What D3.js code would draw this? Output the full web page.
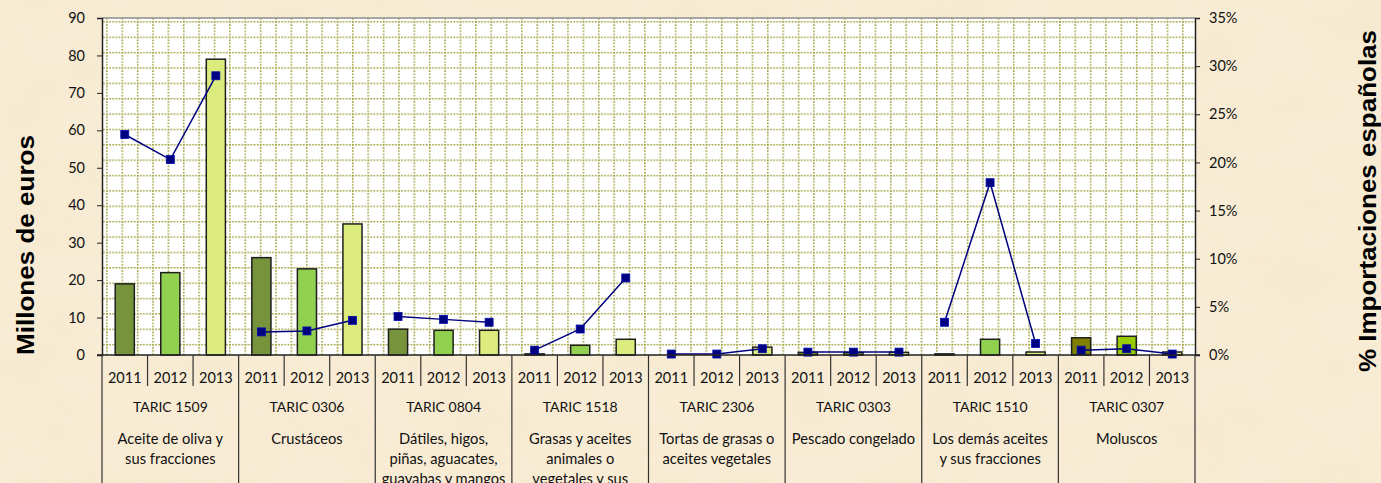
<!DOCTYPE html>
<html>
<head>
<meta charset="utf-8">
<script src="https://cdn.jsdelivr.net/npm/d3@7"></script>
<style>
  html, body { margin: 0; padding: 0; background: #f7e9cf; }
  svg { display: block; }
  .tick text { font-family: Lato, "Open Sans", sans-serif; fill: #111; }
</style>
</head>
<body>
<div id="chart"></div>
<script>
// Datos
const groups = ["TARIC 1509", "TARIC 0306", "TARIC 0804", "TARIC 1518",
    "TARIC 2306", "TARIC 0303", "TARIC 1510", "TARIC 0307"];
const descriptions = [
    ["Aceite de oliva y", "sus fracciones"],
    ["Crustáceos"],
    ["Dátiles, higos,", "piñas, aguacates,", "guayabas y mangos"],
    ["Grasas y aceites", "animales o", "vegetales y sus"],
    ["Tortas de grasas o", "aceites vegetales"],
    ["Pescado congelado"],
    ["Los demás aceites", "y sus fracciones"],
    ["Moluscos"]
];
const years = ["2011", "2012", "2013"];
// millones de euros
const imports = [
    [19, 22, 79],
    [26, 23, 35],
    [6.9, 6.6, 6.6],
    [0.3, 2.6, 4.2],
    [0, 0, 2.1],
    [0.7, 0.6, 0.7],
    [0.3, 4.2, 0.8],
    [4.6, 5.0, 0.8]
];
// % importaciones espanolas
const shares = [
    [0.229, 0.203, 0.290],
    [0.024, 0.025, 0.036],
    [0.040, 0.037, 0.034],
    [0.005, 0.027, 0.080],
    [0.001, 0.001, 0.0065],
    [0.003, 0.003, 0.003],
    [0.034, 0.179, 0.012],
    [0.005, 0.0065, 0.001]
];
const leftTicks = [0, 10, 20, 30, 40, 50, 60, 70, 80, 90];
const rightTicks = [0, 0.05, 0.10, 0.15, 0.20, 0.25, 0.30, 0.35];

const yearColors = ["#77933c", "#92d050", "#dcec7c"];
const lastGroupColors = ["#7f7f00", "#99cc00", "#dcec7c"];

const W = 1381, H = 483;
const margin = {top: 18, right: 186, bottom: 128, left: 102};
const width = W - margin.left - margin.right;
const height = H - margin.top - margin.bottom;

const svg = d3.select("#chart").append("svg")
    .attr("width", W)
    .attr("height", H);

const defs = svg.append("defs");

// paper texture
const paper = defs.append("filter").attr("id", "paper")
    .attr("x", 0).attr("y", 0).attr("width", "100%").attr("height", "100%");
paper.append("feTurbulence")
    .attr("type", "fractalNoise")
    .attr("baseFrequency", "0.012 0.02")
    .attr("numOctaves", 4)
    .attr("seed", 7);
paper.append("feColorMatrix")
    .attr("type", "matrix")
    .attr("values", "0 0 0 0 0.88  0 0 0 0 0.78  0 0 0 0 0.60  1.6 0 0 0 -0.62");

svg.append("rect").attr("width", W).attr("height", H).attr("fill", "#f9ecd4");
svg.append("rect").attr("width", W).attr("height", H)
    .attr("filter", "url(#paper)").attr("opacity", 0.45);

// dotted grid pattern fill of the plot area
const cell = 15.37;
const pat = defs.append("pattern").attr("id", "dotgrid")
    .attr("patternUnits", "userSpaceOnUse")
    .attr("x", margin.left + 9.7).attr("y", margin.top + 0.5)
    .attr("width", cell).attr("height", cell);
pat.append("rect").attr("width", cell).attr("height", cell).attr("fill", "#fff");
pat.append("line").attr("x1", 0).attr("x2", cell).attr("y1", 0.75).attr("y2", 0.75)
    .attr("stroke", "#999930").attr("stroke-width", 1.6).attr("stroke-dasharray", "1.6,1.5");
pat.append("line").attr("x1", 0.75).attr("x2", 0.75).attr("y1", 0).attr("y2", cell)
    .attr("stroke", "#999930").attr("stroke-width", 1.6).attr("stroke-dasharray", "1.6,1.5");

const g = svg.append("g")
    .attr("transform", "translate(" + margin.left + "," + margin.top + ")");

g.append("rect")
    .attr("width", width).attr("height", height)
    .attr("fill", "url(#dotgrid)");
g.append("line")
    .attr("x1", 0).attr("x2", width).attr("y1", 0).attr("y2", 0)
    .attr("stroke", "#8c8c8c").attr("stroke-width", 1.5);

// scales
const x0 = d3.scaleBand().domain(groups).range([0, width]);
const x1 = d3.scaleBand().domain(years).range([0, x0.bandwidth()])
    .paddingInner(0.58).paddingOuter(0.29);
const yL = d3.scaleLinear().domain([0, 90]).range([height, 0]);
const yR = d3.scaleLinear().domain([0, 0.35]).range([height, 0]);

// bars
const grp = g.selectAll(".grp")
    .data(groups)
    .enter()
    .append("g")
    .attr("class", "grp")
    .attr("transform", d => `translate(${x0(d)},0)`);

grp.selectAll("rect")
    .data((d, gi) => years.map((yr, i) => ({yr, i, gi, v: imports[gi][i]})))
    .enter()
    .append("rect")
    .attr("x", d => x1(d.yr))
    .attr("y", d => yL(d.v))
    .attr("width", x1.bandwidth())
    .attr("height", d => height - yL(d.v))
    .attr("fill", d => d.gi === groups.length - 1 ? lastGroupColors[d.i] : yearColors[d.i])
    .attr("stroke", "#1e1e1e")
    .attr("stroke-width", 1.5);

// share lines, one per group
const line = d3.line()
    .x(d => x1(d.yr) + x1.bandwidth() / 2)
    .y(d => yR(d.v));

grp.append("path")
    .datum((d, gi) => years.map((yr, i) => ({yr, v: shares[gi][i]})))
    .attr("d", line)
    .attr("fill", "none")
    .attr("stroke", "#000080")
    .attr("stroke-width", 1.5);

grp.selectAll(".mk")
    .data((d, gi) => years.map((yr, i) => ({yr, v: shares[gi][i]})))
    .enter()
    .append("rect")
    .attr("class", "mk")
    .attr("x", d => x1(d.yr) + x1.bandwidth() / 2 - 4)
    .attr("y", d => yR(d.v) - 4)
    .attr("width", 8)
    .attr("height", 8)
    .attr("fill", "#000080")
    .attr("stroke", "#0010b0")
    .attr("stroke-width", 0.8);

// axes
const leftAxis = g.append("g")
    .call(d3.axisLeft(yL).tickValues(leftTicks).tickSize(5).tickPadding(12));
leftAxis.selectAll("text").attr("font-size", 14.5);

const rightAxis = g.append("g")
    .attr("transform", "translate(" + width + ",0)")
    .call(d3.axisRight(yR).tickValues(rightTicks).tickFormat(d3.format(".0%"))
        .tickSize(5).tickPadding(9));
rightAxis.selectAll("text").attr("font-size", 14.5);

g.selectAll(".domain").attr("stroke", "#222").attr("stroke-width", 1.5);
g.selectAll(".tick line").attr("stroke", "#222");

// category axis
const cat = g.append("g").attr("transform", "translate(0," + height + ")");
cat.append("line")
    .attr("x1", -5).attr("x2", width + 5)
    .attr("stroke", "#222").attr("stroke-width", 1.5);

// year separators
groups.forEach(gr => {
    years.slice(1).forEach(yr => {
        const xs = x0(gr) + x0.bandwidth() / 3 * years.indexOf(yr);
        cat.append("line")
            .attr("x1", xs).attr("x2", xs).attr("y1", 0).attr("y2", 31)
            .attr("stroke", "#333").attr("stroke-width", 1.2);
    });
});
// group separators
groups.concat([null]).forEach((gr, i) => {
    const xs = i * x0.bandwidth();
    cat.append("line")
        .attr("x1", xs).attr("x2", xs).attr("y1", 0).attr("y2", 140)
        .attr("stroke", "#333").attr("stroke-width", 1.2);
});

const labelFont = "Lato, 'Open Sans', sans-serif";
groups.forEach((gr, gi) => {
    years.forEach(yr => {
        cat.append("text")
            .attr("x", x0(gr) + x0.bandwidth() / 6 * (2 * years.indexOf(yr) + 1))
            .attr("y", 28)
            .attr("text-anchor", "middle")
            .attr("font-family", labelFont)
            .attr("font-size", 14.5)
            .attr("fill", "#111")
            .text(yr);
    });
    cat.append("text")
        .attr("x", x0(gr) + x0.bandwidth() / 2)
        .attr("y", 57)
        .attr("text-anchor", "middle")
        .attr("font-family", labelFont)
        .attr("font-size", 14)
        .attr("fill", "#111")
        .text(gr);
    descriptions[gi].forEach((ln, li) => {
        cat.append("text")
            .attr("x", x0(gr) + x0.bandwidth() / 2)
            .attr("y", 89 + li * 20)
            .attr("text-anchor", "middle")
            .attr("font-family", labelFont)
            .attr("font-size", 14.7)
            .attr("fill", "#111")
            .text(ln);
    });
});

// axis titles
svg.append("text")
    .attr("transform", "translate(34,245) rotate(-90)")
    .attr("text-anchor", "middle")
    .attr("font-family", "'Liberation Sans', Arial, sans-serif")
    .attr("font-weight", "bold")
    .attr("font-size", 24)
    .attr("textLength", 220)
    .attr("lengthAdjust", "spacingAndGlyphs")
    .attr("fill", "#000")
    .text("Millones de euros");

svg.append("text")
    .attr("transform", "translate(1376,201) rotate(-90)")
    .attr("text-anchor", "middle")
    .attr("font-family", "'Liberation Sans', Arial, sans-serif")
    .attr("font-weight", "bold")
    .attr("font-size", 24)
    .attr("textLength", 342)
    .attr("lengthAdjust", "spacingAndGlyphs")
    .attr("fill", "#000")
    .text("% Importaciones españolas");
</script>
</body>
</html>
